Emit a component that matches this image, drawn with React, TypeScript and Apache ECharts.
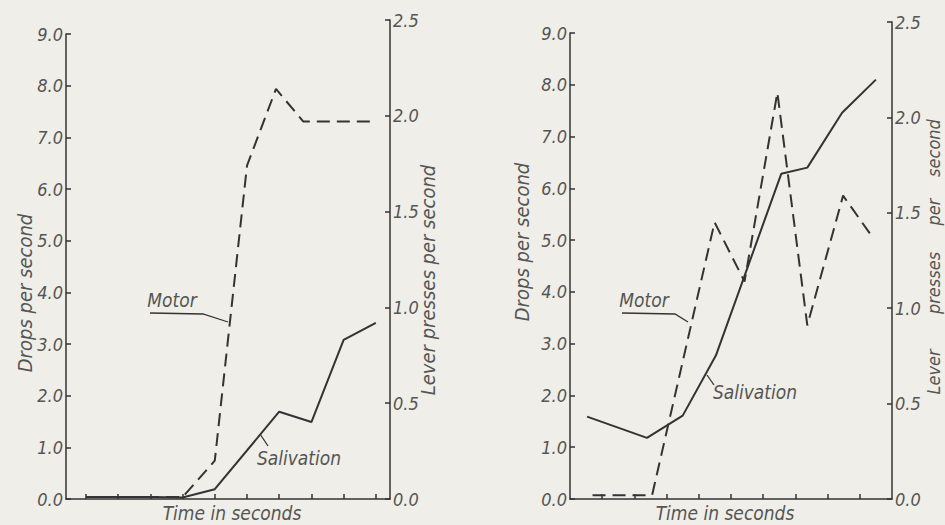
import React, { useEffect, useRef } from "react";
import * as echarts from "echarts";

// ---- Data (x in time-tick units, y in axis units) ----
// Left panel
const salXLeft = [0, 1, 2, 3, 4, 6, 7, 8, 9];
const salYLeft = [0.04, 0.04, 0.04, 0.03, 0.19, 1.69, 1.49, 3.08, 3.41];
const motXLeft = [0, 1, 2, 3, 4, 5, 5.9, 6.75, 9];
const motYLeft = [0.01, 0.01, 0.01, 0.01, 0.2, 1.74, 2.14, 1.97, 1.97];
// Right panel
const salXRight = [0.53, 2.39, 3.5, 4.53, 6.56, 7.37, 8.45, 9.5];
const salYRight = [1.59, 1.18, 1.61, 2.77, 6.28, 6.4, 7.46, 8.1];
const motXRight = [0.7, 2.55, 4.49, 5.42, 6.44, 7.37, 8.48, 9.32];
const motYRight = [0.02, 0.02, 1.45, 1.14, 2.13, 0.91, 1.59, 1.39];

// Tick values
const timeTicksLeft = [0, 1, 2, 3, 4, 5, 6, 7, 8, 9];
const timeTicksRight = [1, 2, 3, 4, 5, 6, 7, 8, 9];
const dropsMax = 9;
const dropsStep = 1;
const leverMax = 2.5;
const leverStep = 0.5;

// Texts
const xTitle = "Time in seconds";
const leftTitle = "Drops per second";
const rightTitle = "Lever presses per second";
const rightTitleWords = ["Lever", "presses", "per", "second"];
const motorLabel = "Motor";
const salivationLabel = "Salivation";

const FONT = '"Liberation Sans Narrow", "DejaVu Sans Condensed", "DejaVu Sans", sans-serif';
const INK = "#333";
const TXT = "#555";
const BG = "#efeee8";

const zip = (xs: number[], ys: number[]) => xs.map((x, i) => [x, ys[i]]);

function yAxisBase(grid: number, pos: "left" | "right", max: number, step: number) {
  return {
    gridIndex: grid,
    type: "value",
    position: pos,
    min: 0,
    max,
    interval: step,
    axisLine: { show: true, onZero: false, lineStyle: { color: INK, width: 1.5 } },
    axisTick: { show: true, inside: true, length: 5, lineStyle: { color: INK, width: 1.5 } },
    axisLabel: {
      show: true,
      margin: 3,
      color: TXT,
      fontSize: 18,
      fontStyle: "italic",
      fontFamily: FONT,
      formatter: (v: number) => v.toFixed(1),
    },
    splitLine: { show: false },
  };
}

function xAxisBase(grid: number, min: number, max: number, ticks: number[] | null) {
  if (!ticks) {
    return { gridIndex: grid, type: "value", min, max, show: false, splitLine: { show: false } };
  }
  return {
    gridIndex: grid,
    type: "value",
    min,
    max,
    axisLine: { show: true, onZero: false, lineStyle: { color: INK, width: 1.5 } },
    axisTick: { show: true, inside: true, length: 5, customValues: ticks, lineStyle: { color: INK, width: 1.5 } },
    axisLabel: { show: false },
    splitLine: { show: false },
  };
}

function txt(x: number, y: number, text: string, size: number, rot = 0) {
  return {
    type: "text",
    x,
    y,
    rotation: rot,
    silent: true,
    style: {
      text,
      fontSize: size,
      fontStyle: "italic",
      fontFamily: FONT,
      fill: TXT,
      align: "center",
      verticalAlign: "middle",
    },
  };
}

function leader(points: number[][]) {
  return {
    type: "polyline",
    silent: true,
    shape: { points },
    style: { stroke: INK, lineWidth: 1.3, fill: null },
  };
}

export default function App() {
  const ref = useRef<HTMLDivElement>(null);
  useEffect(() => {
    if (!ref.current) return;
    const chart = echarts.init(ref.current, undefined, { renderer: "svg" });
    const solid = { color: INK, width: 2 };
    const dashed = { color: INK, width: 2, type: [13, 7] };
    chart.setOption({
      animation: false,
      backgroundColor: BG,
      grid: [
        { left: 66, right: 555, top: 34, bottom: 26 },
        { left: 66, right: 555, top: 20, bottom: 26 },
        { left: 570, right: 53, top: 33, bottom: 26 },
        { left: 570, right: 53, top: 22, bottom: 26 },
      ],
      xAxis: [
        xAxisBase(0, -0.62, 9.44, timeTicksLeft),
        xAxisBase(1, -0.62, 9.44, null),
        xAxisBase(2, 0, 10, timeTicksRight),
        xAxisBase(3, 0, 10, null),
      ],
      yAxis: [
        yAxisBase(0, "left", dropsMax, dropsStep),
        yAxisBase(1, "right", leverMax, leverStep),
        yAxisBase(2, "left", dropsMax, dropsStep),
        yAxisBase(3, "right", leverMax, leverStep),
      ],
      series: [
        { name: "Salivation L", type: "line", xAxisIndex: 0, yAxisIndex: 0, data: zip(salXLeft, salYLeft), symbol: "none", lineStyle: solid },
        { name: "Motor L", type: "line", xAxisIndex: 1, yAxisIndex: 1, data: zip(motXLeft, motYLeft), symbol: "none", lineStyle: dashed },
        { name: "Salivation R", type: "line", xAxisIndex: 2, yAxisIndex: 2, data: zip(salXRight, salYRight), symbol: "none", lineStyle: solid },
        { name: "Motor R", type: "line", xAxisIndex: 3, yAxisIndex: 3, data: zip(motXRight, motYRight), symbol: "none", lineStyle: dashed },
      ],
      graphic: [
        // axis titles, left panel
        txt(232, 513, xTitle, 19),
        txt(25, 293, leftTitle, 20, Math.PI / 2),
        txt(428, 280, rightTitle, 20, Math.PI / 2),
        // axis titles, right panel
        txt(725, 513, xTitle, 19),
        txt(522, 242, leftTitle, 20, Math.PI / 2),
        txt(933, 372, rightTitleWords[0], 18, Math.PI / 2),
        txt(933, 283, rightTitleWords[1], 18, Math.PI / 2),
        txt(933, 212, rightTitleWords[2], 18, Math.PI / 2),
        txt(933, 148, rightTitleWords[3], 18, Math.PI / 2),
        // annotations left
        txt(172, 300, motorLabel, 19),
        leader([[150, 313], [203, 314], [228, 322]]),
        txt(299, 458, salivationLabel, 19),
        leader([[260, 434], [268, 446]]),
        // annotations right
        txt(644, 300, motorLabel, 19),
        leader([[622, 313], [675, 314], [688, 322]]),
        txt(755, 392, salivationLabel, 19),
        leader([[707, 375], [714, 385]]),
      ],
    });
    return () => chart.dispose();
  }, []);
  return (
    <div
      ref={ref}
      style={{ position: "fixed", left: 0, top: 0, width: 945, height: 525, background: BG }}
    />
  );
}
